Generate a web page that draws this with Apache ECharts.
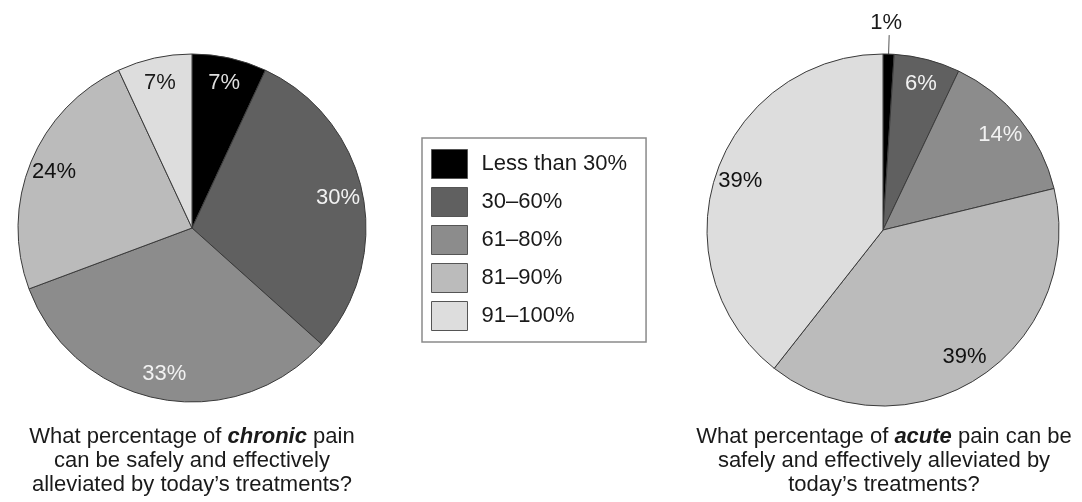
<!DOCTYPE html>
<html><head><meta charset="utf-8">
<script src="https://cdn.jsdelivr.net/npm/echarts@6/dist/echarts.min.js"></script>
<style>html,body{margin:0;padding:0;background:#fff}#c{width:1082px;height:502px}</style>
</head><body><div id="c"></div>
<script>
const categories = ['Less than 30%', '30–60%', '61–80%', '81–90%', '91–100%'];
const chronicValues = [7, 30, 33, 24, 7];
const acuteValues = [1, 6, 14, 39, 39];
const sliceColors = ['#000000', '#606060', '#8c8c8c', '#bbbbbb', '#dddddd'];
const chronicLabelColors = ['#dedede', '#f2f2f2', '#f2f2f2', '#111111', '#1a1a1a'];
const acuteLabelColors = ['#1a1a1a', '#f2f2f2', '#f2f2f2', '#111111', '#111111'];

const FONT = "'Liberation Sans', Arial, sans-serif";

function mainData(values) {
  return values.map((v, i) => ({ name: categories[i], value: v, itemStyle: { color: sliceColors[i] } }));
}
function overlayData(values, labelColors, skipFirst) {
  return values.map((v, i) => ({
    name: categories[i], value: v,
    label: { show: !(skipFirst && i === 0), color: labelColors[i] }
  }));
}

const chart = echarts.init(document.getElementById('c'), null, { renderer: 'canvas' });
const baseMain = {
  type: 'pie', startAngle: 90, clockwise: true, silent: true, animation: false,
  avoidLabelOverlap: false,
  itemStyle: { borderColor: '#3a3a3a', borderWidth: 1 },
  label: { show: false }, labelLine: { show: false },
  emphasis: { disabled: true }
};
const baseOverlay = {
  type: 'pie', startAngle: 90, clockwise: true, silent: true, animation: false,
  avoidLabelOverlap: false,
  itemStyle: { color: 'rgba(0,0,0,0)', borderWidth: 0 },
  label: { show: true, position: 'inside', formatter: '{c}%', fontSize: 22, fontFamily: FONT },
  labelLine: { show: false },
  emphasis: { disabled: true }
};

const acuteMain = mainData(acuteValues);
acuteMain[0].label = { show: true, position: 'outside', formatter: '{c}%', fontSize: 22, fontFamily: FONT, color: '#1a1a1a' };
acuteMain[0].labelLine = { show: true, length: 19, length2: 0, smooth: false, lineStyle: { color: '#555', width: 1 } };

chart.setOption({
  backgroundColor: '#ffffff',
  legend: {
    orient: 'vertical', left: 422, top: 138,
    padding: [11, 19, 11, 9], itemGap: 8, itemWidth: 36, itemHeight: 29,
    borderColor: '#8a8a8a', borderWidth: 1.5, selectedMode: false,
    icon: 'rect',
    textStyle: { fontSize: 22, fontFamily: FONT, color: '#1a1a1a', padding: [0, 0, 0, 9] },
    data: categories.map((c, i) => ({ name: c, itemStyle: { color: sliceColors[i], borderColor: '#555', borderWidth: 1 } }))
  },
  series: [
    Object.assign({}, baseMain, { center: [192, 228], radius: [0, 174], data: mainData(chronicValues) }),
    Object.assign({}, baseOverlay, { center: [192, 228], radius: [118, 174], data: overlayData(chronicValues, chronicLabelColors, false) }),
    Object.assign({}, baseMain, {
      center: [883, 230], radius: [0, 176], data: acuteMain,
      labelLayout: function (p) {
        if (p.dataIndex !== 0 || !p.labelLinePoints) return {};
        const end = p.labelLinePoints[p.labelLinePoints.length - 1];
        return { x: end[0] - 3, y: end[1] - 1, align: 'center', verticalAlign: 'bottom', labelLinePoints: p.labelLinePoints };
      }
    }),
    Object.assign({}, baseOverlay, { center: [883, 230], radius: [120, 176], data: overlayData(acuteValues, acuteLabelColors, true) })
  ],
  graphic: [
    {
      type: 'text', x: 192, y: 425, silent: true,
      style: {
        text: '{a|What percentage of }{b|chronic}{a| pain}\n{a|can be safely and effectively}\n{a|alleviated by today’s treatments?}',
        align: 'center', verticalAlign: 'top',
        rich: {
          a: { fontSize: 22, fontFamily: FONT, fill: '#1a1a1a', lineHeight: 24 },
          b: { fontSize: 22, fontFamily: FONT, fill: '#1a1a1a', lineHeight: 24, fontWeight: 'bold', fontStyle: 'italic' }
        }
      }
    },
    {
      type: 'text', x: 884, y: 425, silent: true,
      style: {
        text: '{a|What percentage of }{b|acute}{a| pain can be}\n{a|safely and effectively alleviated by}\n{a|today’s treatments?}',
        align: 'center', verticalAlign: 'top',
        rich: {
          a: { fontSize: 22, fontFamily: FONT, fill: '#1a1a1a', lineHeight: 24 },
          b: { fontSize: 22, fontFamily: FONT, fill: '#1a1a1a', lineHeight: 24, fontWeight: 'bold', fontStyle: 'italic' }
        }
      }
    }
  ]
});
</script></body></html>
